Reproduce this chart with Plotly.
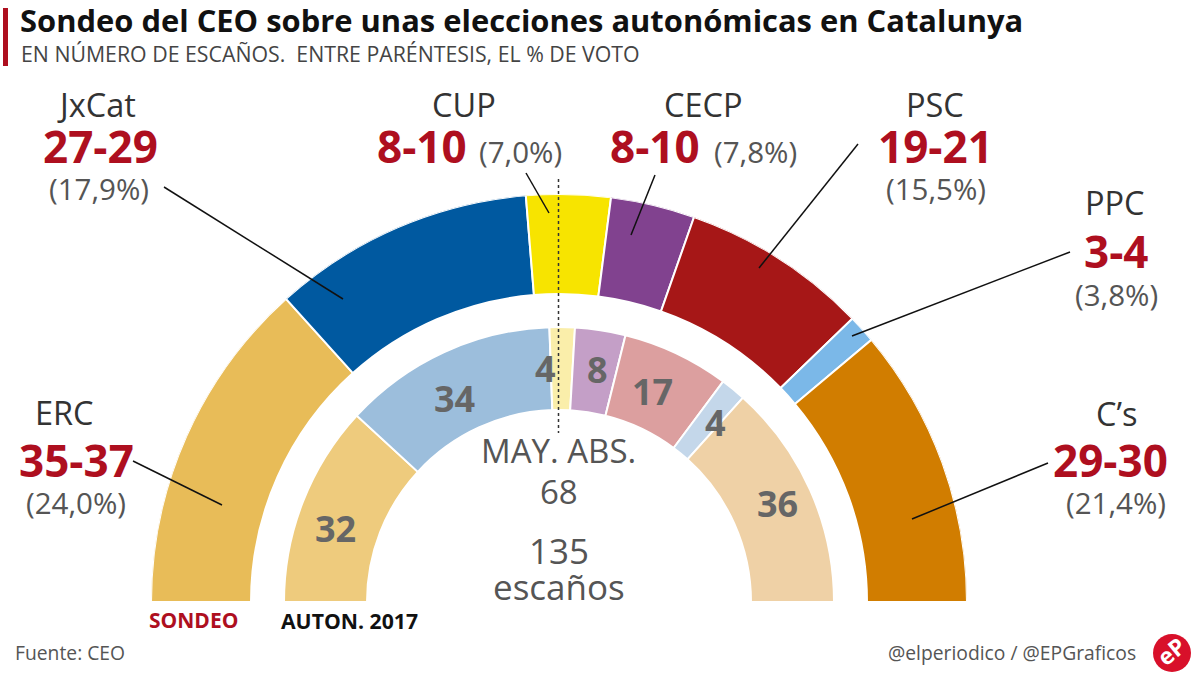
import numpy as np
import plotly.graph_objects as go

W, H = 1200, 674

# Data
parties = ['ERC', 'JxCat', 'CUP', 'CECP', 'PSC', 'PPC', 'C’s']
seats_low = [35, 27, 8, 8, 19, 3, 29]
seats_high = [37, 29, 10, 10, 21, 4, 30]
seats_poll = [36, 28, 9, 9, 20, 3, 30]  # what the arcs are drawn with
vote_pct = ['24,0', '17,9', '7,0', '7,8', '15,5', '3,8', '21,4']
seats_2017 = [32, 34, 4, 8, 17, 4, 36]
total_seats = 135
majority = 68

# Styles
colors_poll = ['#e8bc58', '#0059a0', '#f7e400', '#81428f', '#a61717', '#7bb8e8', '#d17d00']
colors_2017 = ['#eecb7d', '#9cbedc', '#faeeaa', '#c49fc7', '#dc9f9f', '#c4d7ea', '#efd1a6']
RED = '#ae0f1f'
GREY = '#555555'
FONT = 'Open Sans'

# Pixel positions: name, range, percentage
pos_name = [(64, 412), (97, 104), (464, 104), (703, 104), (935, 104), (1115, 202), (1116, 413)]
pos_range = [(76, 460), (100, 146), (422, 146), (655, 146), (935, 146), (1116, 251), (1110, 460)]
pos_pct = [(76, 503), (99, 188), (520, 151), (755, 151), (936, 188), (1116, 294), (1116, 503)]
pos_2017 = [(335, 528), (454, 398), (545, 368), (597, 369), (652, 391), (715, 422), (777, 504)]
leaders = [(133, 461, 222, 505), (164, 187, 343, 299), (526, 173, 549, 213), (655, 175, 631, 235),
           (858, 144, 759, 268), (1070, 252, 852, 336), (1048, 463, 912, 519)]


def px(x):
    return x / W


def py(y):
    return 1 - y / H


def label(x, y, text, size, color=GREY, bold=False, anchor='center', angle=0):
    if bold:
        text = '<b>' + text + '</b>'
    return dict(x=px(x), y=py(y), xref='paper', yref='paper', text=text, showarrow=False,
                xanchor=anchor, yanchor='middle', textangle=angle,
                font=dict(family=FONT, size=size, color=color))


def ring(seats, colors, inner, outer):
    seats = np.array(seats, dtype=float)
    span = seats / seats.sum() * 180
    start = np.concatenate([[0], np.cumsum(span)[:-1]])
    return go.Barpolar(theta=180 - (start + span / 2), width=span, r=[outer - inner] * len(seats),
                       base=inner, marker=dict(color=colors, line=dict(color='white', width=2)),
                       hoverinfo='skip', showlegend=False)


fig = go.Figure()
fig.add_trace(ring(seats_poll, colors_poll, 308, 408))
fig.add_trace(ring(seats_2017, colors_2017, 192, 275))

notes = [
    label(18, 20, 'Sondeo del CEO sobre unas elecciones autonómicas en Catalunya', 30.9, '#111111', True, 'left'),
    label(19, 53, 'EN NÚMERO DE ESCAÑOS.  ENTRE PARÉNTESIS, EL % DE VOTO', 21.3, '#444444', False, 'left'),
    label(558, 451, 'MAY. ABS.', 33),
    label(559, 491, str(majority), 33),
    label(559, 550, str(total_seats), 35),
    label(559, 586, 'escaños', 35),
    label(193, 620, 'SONDEO', 21, RED, True),
    label(349, 620, 'AUTON. 2017', 21.2, '#111111', True),
    label(13, 652, 'Fuente: CEO', 19.3, GREY, False, 'left'),
    label(1138, 652, '@elperiodico / @EPGraficos', 19.3, GREY, False, 'right'),
    label(1171, 651, 'eP', 23, 'white', True, 'center', -40),
]
for i, name in enumerate(parties):
    notes.append(label(*pos_name[i], name, 32.5, '#333333'))
    notes.append(label(*pos_range[i], f'{seats_low[i]}-{seats_high[i]}', 44, RED, True))
    notes.append(label(*pos_pct[i], f'({vote_pct[i]}%)', 29.5))
    notes.append(label(*pos_2017[i], str(seats_2017[i]), 36, '#666666', True))

shapes = [
    dict(type='rect', xref='paper', yref='paper', x0=px(3), x1=px(8), y0=py(66), y1=py(8),
         fillcolor=RED, line_width=0),
    dict(type='line', xref='paper', yref='paper', x0=px(558.5), x1=px(558.5), y0=py(179), y1=py(433),
         line=dict(color='#333333', width=1.5, dash='dot')),
    dict(type='circle', xref='paper', yref='paper', x0=px(1153), x1=px(1191), y0=py(672), y1=py(634),
         fillcolor='#d8102a', line_width=0),
]
for x0, y0, x1, y1 in leaders:
    shapes.append(dict(type='line', xref='paper', yref='paper', x0=px(x0), x1=px(x1), y0=py(y0), y1=py(y1),
                       line=dict(color='#111111', width=1.5)))

fig.update_layout(
    width=W, height=H,
    margin=dict(l=0, r=0, t=0, b=0),
    paper_bgcolor='white',
    showlegend=False,
    font=dict(family=FONT),
    polar=dict(
        domain=dict(x=[px(151), px(967)], y=[py(602), py(194)]),
        sector=[0, 180],
        bgcolor='rgba(0,0,0,0)',
        radialaxis=dict(range=[0, 408], visible=False),
        angularaxis=dict(visible=False),
        barmode='overlay',
    ),
    annotations=notes,
    shapes=shapes,
)

# the browser's default body margin would push the figure 8px off
fig.write_html('out.html', config={'displayModeBar': False},
               post_script="document.body.style.margin='0';document.documentElement.style.overflow='hidden';")
